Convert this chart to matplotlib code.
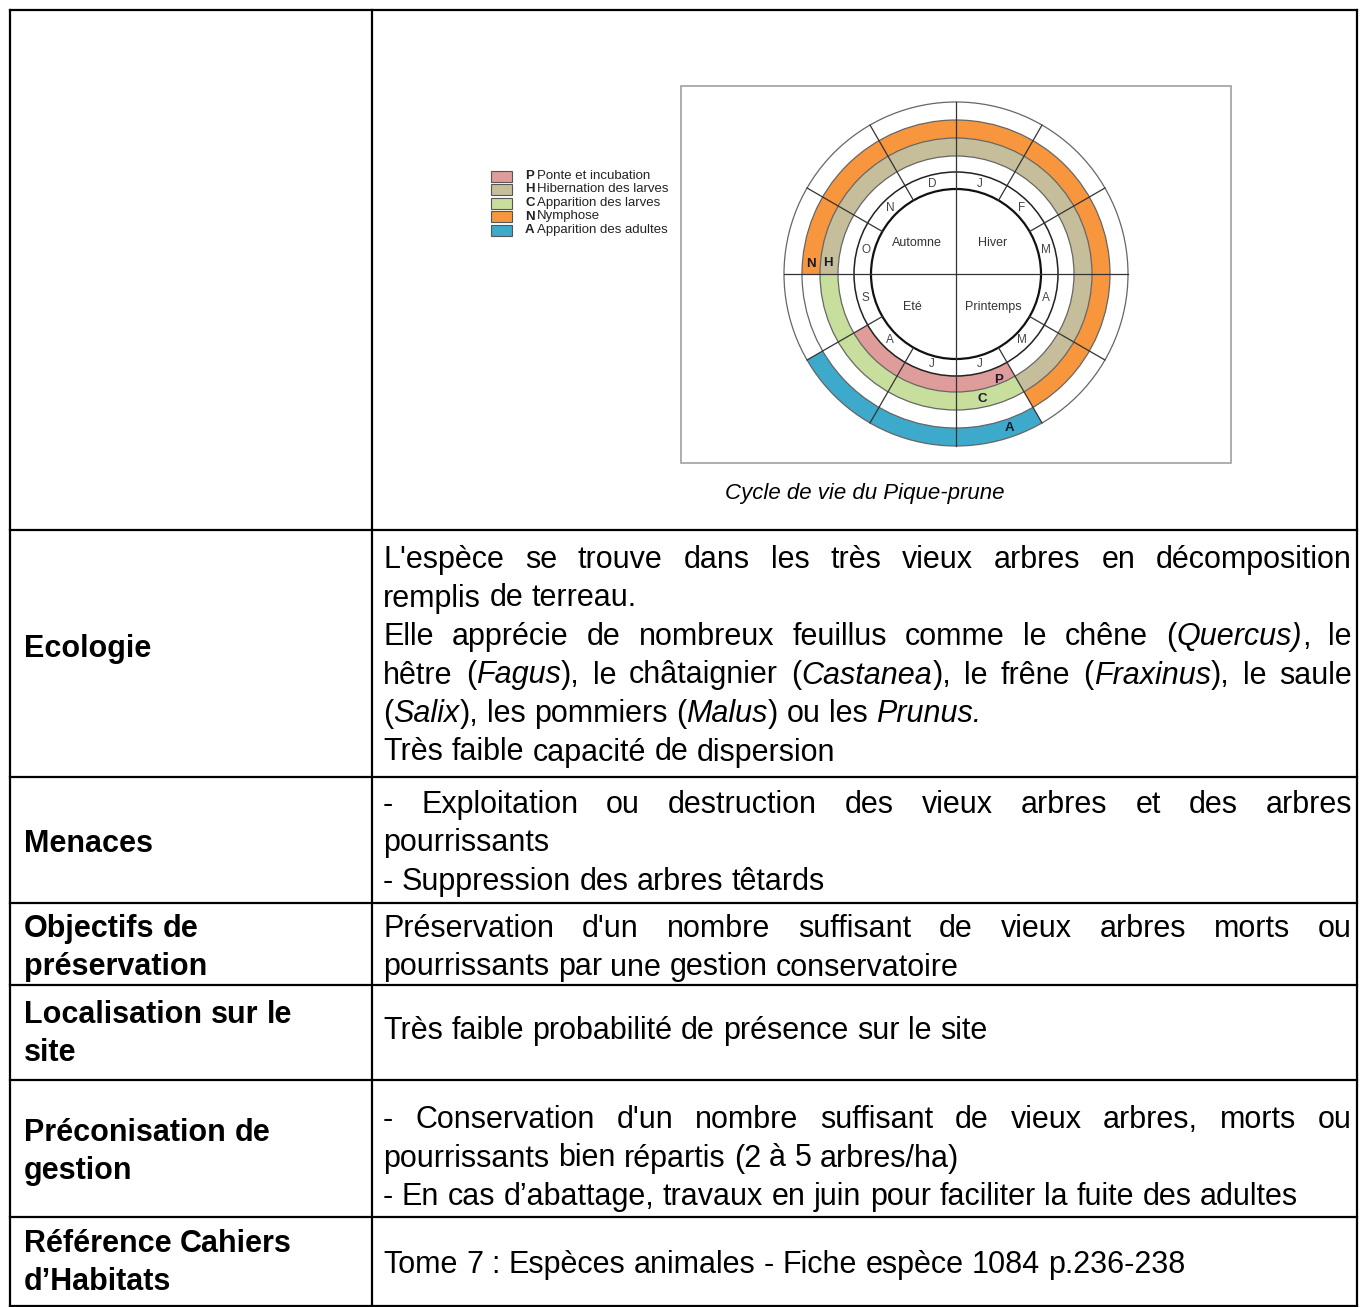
import matplotlib
matplotlib.use('Agg')
import matplotlib.pyplot as plt
from matplotlib.patches import Wedge, Circle, Rectangle
import numpy as np

plt.rcParams['font.family'] = ['Liberation Sans', 'DejaVu Sans']

# ---------------- data ----------------
months = ['J', 'F', 'M', 'A', 'M', 'J', 'J', 'A', 'S', 'O', 'N', 'D']
seasons = ['Hiver', 'Printemps', 'Eté', 'Automne']
phase_codes = ['P', 'H', 'C', 'N', 'A']
phase_names = ['Ponte et incubation', 'Hibernation des larves',
               'Apparition des larves', 'Nymphose', 'Apparition des adultes']
phase_ring = [0, 1, 1, 2, 3]          # ring index outside the month ring
phase_start = [6, 10, 6, 10, 6]       # first month (1-12)
phase_end = [8, 5, 9, 5, 8]           # last month (1-12)
phase_colors = ['#DE9C9A', '#C6BE9A', '#C8DE9C', '#F8963E', '#3DA9CB']
caption = 'Cycle de vie du Pique-prune'

row_labels = [
    ['Ecologie'],
    ['Menaces'],
    ['Objectifs de', 'préservation'],
    ['Localisation sur le', 'site'],
    ['Préconisation de', 'gestion'],
    ['Référence Cahiers', 'd’Habitats'],
]
# (line, justified)
row_texts = [
    [("L'espèce se trouve dans les très vieux arbres en décomposition", True),
     ("remplis de terreau.", False),
     ("Elle apprécie de nombreux feuillus comme le chêne (*Quercus)*, le", True),
     ("hêtre (*Fagus*), le châtaignier (*Castanea*), le frêne (*Fraxinus*), le saule", True),
     ("(*Salix*), les pommiers (*Malus*) ou les *Prunus.*", False),
     ("Très faible capacité de dispersion", False)],
    [("-  Exploitation ou destruction des vieux arbres et des arbres", True),
     ("pourrissants", False),
     ("- Suppression des arbres têtards", False)],
    [("Préservation d'un nombre suffisant de vieux arbres morts ou", True),
     ("pourrissants par une gestion conservatoire", False)],
    [("Très faible probabilité de présence sur le site", False)],
    [("- Conservation d'un nombre suffisant de vieux arbres, morts ou", True),
     ("pourrissants bien répartis (2 à 5 arbres/ha)", False),
     ("- En cas d’abattage, travaux en juin pour faciliter la fuite des adultes", False)],
    [("Tome 7 : Espèces animales - Fiche espèce 1084 p.236-238", False)],
]

# ---------------- layout ----------------
W, H = 1360, 1307
fig = plt.figure(figsize=(W / 100, H / 100), dpi=100)
ax = fig.add_axes([0, 0, 1, 1])
ax.set_xlim(0, W)
ax.set_ylim(H, 0)
ax.axis('off')
fig.canvas.draw()
renderer = fig.canvas.get_renderer()

BODY = 22
table_left, table_right, col_x = 10, 1357, 372
row_lines = [10, 530, 777, 903, 985, 1080, 1217, 1306]
label_y = [[646], [841], [926, 964], [1012, 1050], [1130, 1168], [1241, 1279]]
text_y0 = [557, 802, 926, 1028, 1117, 1262]
line_gap = 38.5
text_x0, text_x1 = 383, 1352
label_x = 24

lw_tab = 1.6
for y in row_lines:
    ax.plot([table_left, table_right], [y, y], color='black', lw=lw_tab,
            solid_capstyle='projecting')
for x in (table_left, col_x, table_right):
    ax.plot([x, x], [row_lines[0], row_lines[-1]], color='black', lw=lw_tab,
            solid_capstyle='projecting')


def text_w(s, **kw):
    t = ax.text(0, 0, s, **kw)
    w = t.get_window_extent(renderer).width
    t.remove()
    return w


def parse(line):
    pieces = []
    ital = False
    for i, part in enumerate(line.split('*')):
        if i > 0:
            ital = not ital
        if part:
            pieces.append((part, ital))
    words = [[]]
    for txt, it in pieces:
        chunks = txt.split(' ')
        for j, c in enumerate(chunks):
            if j > 0:
                words.append([])
            if c:
                words[-1].append((c, it))
    return [w for w in words if w]


def draw_line(line, x0, yc, x1=None, justify=False, size=BODY, weight='normal'):
    words = parse(line)
    base = dict(fontsize=size, fontweight=weight)
    space = text_w('a a', **base) - text_w('aa', **base)
    widths = []
    for w in words:
        widths.append([text_w(p, fontstyle='italic' if it else 'normal', **base)
                       for p, it in w])
    total = sum(sum(ws) for ws in widths)
    if justify and len(words) > 1:
        gap = (x1 - x0 - total) / (len(words) - 1)
    else:
        gap = space
    x = x0
    yb = yc + size * 100 / 72 * 0.36
    for w, ws in zip(words, widths):
        for (p, it), pw in zip(w, ws):
            ax.text(x, yb, p, fontstyle='italic' if it else 'normal',
                    va='baseline', ha='left', color='black', **base)
            x += pw
        x += gap


for i, lines in enumerate(row_texts):
    for j, (ln, just) in enumerate(lines):
        draw_line(ln, text_x0, text_y0[i] + j * line_gap, text_x1, just)
    for j, lab in enumerate(row_labels[i]):
        draw_line(lab, label_x, label_y[i][j], weight='bold')

# ---------------- life-cycle diagram ----------------
ax.add_patch(Rectangle((681, 86), 550, 377, facecolor='white',
                       edgecolor='#a0a0a0', lw=1.2))
cx, cy = 956, 274
radii = [85, 102, 118, 136, 154, 172]


def wedge(r_out, width, a1, a2, **kw):
    # a1->a2 visual angles (deg, ccw); y axis is inverted
    return Wedge((cx, cy), r_out, -a2, -a1, width=width, **kw)


def pol(r, a):
    return cx + r * np.cos(np.radians(a)), cy - r * np.sin(np.radians(a))


for code, ring, m1, m2, col in zip(phase_codes, phase_ring, phase_start,
                                   phase_end, phase_colors):
    n = (m2 - m1) % 12 + 1
    a2 = 90 - 30 * (m1 - 1)
    a1 = a2 - 30 * n
    ax.add_patch(wedge(radii[ring + 2], radii[ring + 2] - radii[ring + 1],
                       a1, a2, facecolor=col, edgecolor='none'))

for k, r in enumerate(radii):
    if k == 0:
        c, l = '#111111', 1.6
    elif k == 1:
        c, l = '#222222', 1.1
    else:
        c, l = '#666666', 0.9
    ax.add_patch(Circle((cx, cy), r, facecolor='none', edgecolor=c, lw=l))

for a in range(0, 360, 30):
    r_in = 0 if a % 90 == 0 else radii[0]
    xa, ya = pol(r_in, a)
    xb, yb = pol(radii[-1], a)
    ax.plot([xa, xb], [ya, yb], color='#333333', lw=0.9)

r_m = (radii[0] + radii[1]) / 2
for m, lab in enumerate(months):
    a = 90 - 30 * m - 15
    x, y = pol(r_m, a)
    ax.text(x, y, lab, fontsize=8.5, color='#444444', ha='center', va='center')

season_pos = [(37, -31), (37, 33), (-44, 33), (-39, -31)]
for s, (dx, dy) in zip(seasons, season_pos):
    ax.text(cx + dx, cy + dy, s, fontsize=9, color='#333333',
            ha='center', va='center')

band_label_pos = {'P': (114, -68), 'H': (129, 175), 'C': (128, -78),
                  'N': (145, 176), 'A': (163, -71)}
for code, ring in zip(phase_codes, phase_ring):
    r, a = band_label_pos[code]
    x, y = pol(r, a)
    ax.text(x, y, code, fontsize=9.5, fontweight='bold', color='#1a1a2a',
            ha='center', va='center')

# legend
leg_x, leg_y0, leg_dy = 491, 176, 13.5
for i, (code, name, col) in enumerate(zip(phase_codes, phase_names, phase_colors)):
    y = leg_y0 + i * leg_dy
    ax.add_patch(Rectangle((leg_x, y - 5.5), 21, 11, facecolor=col,
                           edgecolor='#555555', lw=0.8))
    ax.text(leg_x + 34, y, code, fontsize=9.5, fontweight='bold',
            color='#222222', ha='left', va='center')
    ax.text(leg_x + 34 + 12, y, name, fontsize=9.5, color='#222222',
            ha='left', va='center')

ax.text(865, 493, caption, fontsize=16, fontstyle='italic', color='black',
        ha='center', va='center')

fig.savefig('out.png', dpi=100)
